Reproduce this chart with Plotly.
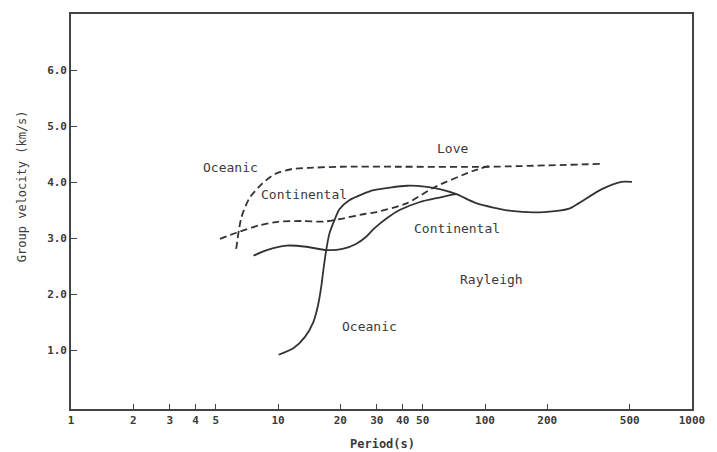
import math
import plotly.graph_objects as go

# ---------------- data ----------------
love_oceanic_period = [6.28, 6.65, 7.28, 8.34, 9.67, 11.7, 14.1, 20.2, 39, 104, 359]
love_oceanic_vel = [2.81, 3.37, 3.72, 3.97, 4.15, 4.24, 4.26, 4.28, 4.28, 4.28, 4.33]

love_cont_period = [5.24, 6.28, 8.06, 10.1, 13.0, 16.7, 20.2, 26.5, 29.0, 42.1, 56.0, 86.7, 104]
love_cont_vel = [2.99, 3.10, 3.23, 3.30, 3.31, 3.30, 3.35, 3.44, 3.46, 3.63, 3.90, 4.20, 4.29]

ray_oceanic_period = [10.07, 11.9, 13.5, 14.8, 15.6, 16.2, 16.6, 17.1, 17.7, 18.8, 19.8, 22.1, 25.6,
                      29.0, 42.1, 52.4, 60.4, 72.8, 90.6, 134, 193, 255, 284, 367, 456, 513]
ray_oceanic_vel = [0.92, 1.04, 1.24, 1.50, 1.80, 2.15, 2.46, 2.79, 3.08, 3.34, 3.52, 3.68, 3.79,
                   3.86, 3.94, 3.92, 3.88, 3.79, 3.63, 3.49, 3.47, 3.53, 3.63, 3.88, 4.01, 4.01]

ray_cont_period = [7.62, 8.83, 11.0, 13.7, 17.1, 20.5, 23.8, 26.5, 29.0, 33.8, 38.9, 48.5, 60.4, 69.6, 72.8]
ray_cont_vel = [2.69, 2.79, 2.87, 2.85, 2.79, 2.81, 2.90, 3.02, 3.17, 3.37, 3.51, 3.65, 3.73, 3.78, 3.79]

x_tick_vals = [1, 2, 3, 4, 5, 10, 20, 30, 40, 50, 100, 200, 500, 1000]
x_tick_text = ["1", "2", "3", "4", "5", "10", "20", "30", "40", "50", "100", "200", "500", "1000"]
y_tick_vals = [1, 2, 3, 4, 5, 6]
y_tick_text = ["1.0", "2.0", "3.0", "4.0", "5.0", "6.0"]

label_text = ["Oceanic", "Continental", "Love", "Continental", "Rayleigh", "Oceanic"]
label_period = [5.87, 13.4, 69.7, 73.6, 107, 27.7]
label_vel = [4.26, 3.78, 4.61, 3.17, 2.26, 1.43]

# ---------------- figure ----------------
LINE = "#333333"
FONT = "DejaVu Sans Mono"
TXT = "#3a3a3a"

fig = go.Figure()

for px_, vy_, dashed in [
    (love_oceanic_period, love_oceanic_vel, True),
    (love_cont_period, love_cont_vel, True),
    (ray_oceanic_period, ray_oceanic_vel, False),
    (ray_cont_period, ray_cont_vel, False),
]:
    fig.add_trace(go.Scatter(
        x=px_, y=vy_, mode="lines",
        line=dict(color=LINE, width=1.8, shape="spline", smoothing=0.7,
                  dash="7px,4px" if dashed else "solid"),
        hoverinfo="skip", showlegend=False,
    ))

# annotation x on a log axis is given in log10 units
for t, xp, yv in zip(label_text, label_period, label_vel):
    fig.add_annotation(x=math.log10(xp), y=yv, xref="x", yref="y", text=t, showarrow=False,
                       font=dict(family=FONT, size=13, color=TXT),
                       xanchor="center", yanchor="middle")

fig.add_annotation(x=-0.079, y=0.564, xref="paper", yref="paper",
                   text="Group velocity (km/s)", textangle=-90, showarrow=False,
                   font=dict(family=FONT, size=12, color=TXT),
                   xanchor="center", yanchor="middle")
fig.add_annotation(x=0.5016, y=-0.088, xref="paper", yref="paper",
                   text="Period(s)", showarrow=False,
                   font=dict(family=FONT, size=12, color=TXT, weight="bold"),
                   xanchor="center", yanchor="middle")

fig.update_layout(
    width=717, height=452,
    margin=dict(l=71, r=16, t=12, b=43),
    paper_bgcolor="white", plot_bgcolor="white",
    font=dict(family=FONT, color=TXT),
    xaxis=dict(type="log", range=[0, 3],
               tickvals=x_tick_vals, ticktext=x_tick_text,
               ticks="inside", ticklen=5, tickwidth=1.3, tickcolor="#444",
               showline=True, linecolor="#444", linewidth=1.6, mirror=True,
               showgrid=False, zeroline=False,
               tickfont=dict(family=FONT, size=11, color=TXT, weight="bold")),
    yaxis=dict(range=[-0.05, 7.01],
               tickvals=y_tick_vals, ticktext=y_tick_text,
               ticks="inside", ticklen=6, tickwidth=1.3, tickcolor="#444",
               showline=True, linecolor="#444", linewidth=1.6, mirror=True,
               showgrid=False, zeroline=False,
               tickfont=dict(family=FONT, size=11, color=TXT, weight="bold")),
)

fig.write_html("out.html")
